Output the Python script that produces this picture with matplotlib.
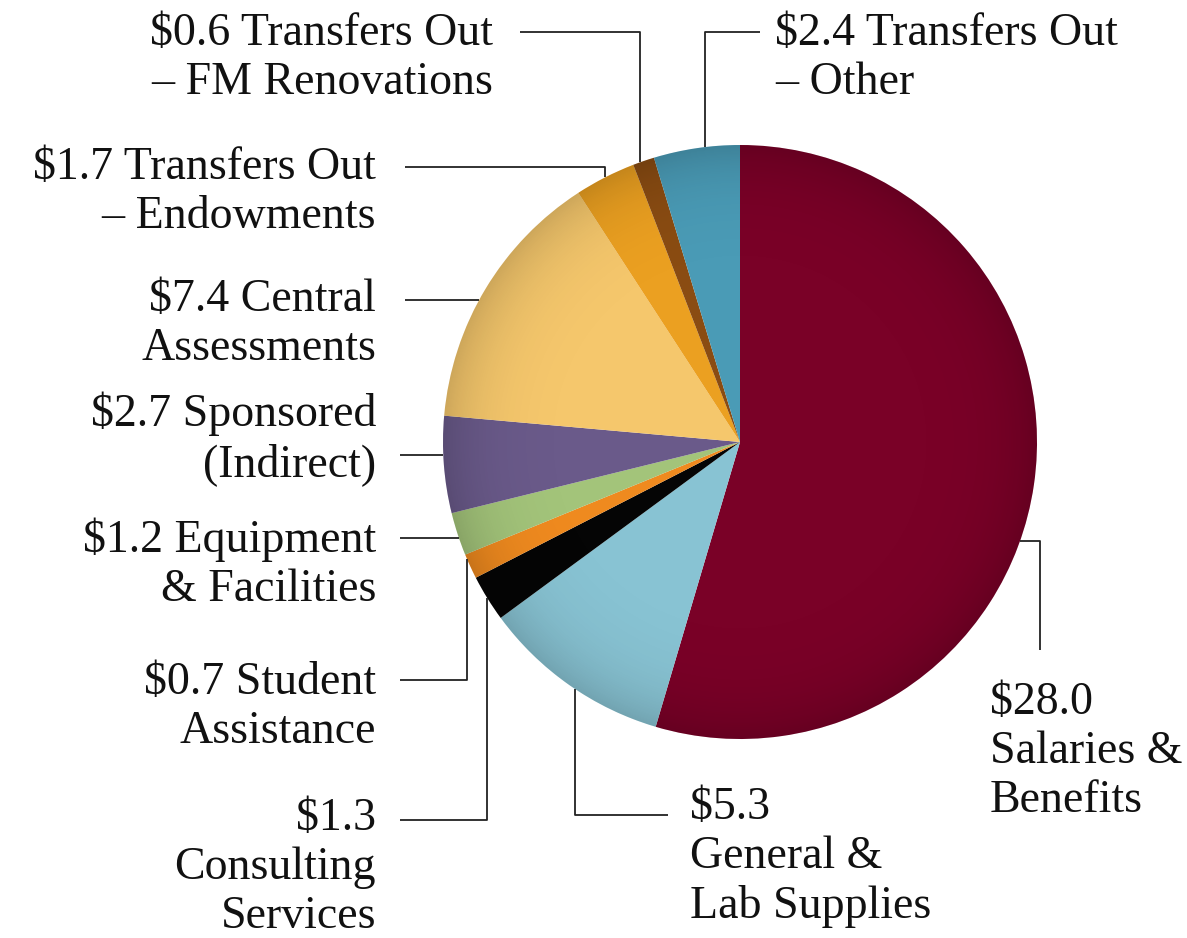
import matplotlib
matplotlib.use("Agg")
import matplotlib.pyplot as plt
from matplotlib.patches import Circle
import numpy as np

# ---- data ----
categories = [
    "$28.0\nSalaries &\nBenefits",
    "$5.3\nGeneral &\nLab Supplies",
    "$1.3\nConsulting\nServices",
    "$0.7 Student\nAssistance",
    "$1.2 Equipment\n& Facilities",
    "$2.7 Sponsored\n(Indirect)",
    "$7.4 Central\nAssessments",
    "$1.7 Transfers Out\n– Endowments",
    "$0.6 Transfers Out\n– FM Renovations",
    "$2.4 Transfers Out\n– Other",
]
values = [28.0, 5.3, 1.3, 0.7, 1.2, 2.7, 7.4, 1.7, 0.6, 2.4]
colors = ["#7a0127", "#88c3d3", "#050505", "#ef8a1f", "#a3c47a",
          "#6a5a8a", "#f5c76c", "#eba021", "#8a4c12", "#4a9bb6"]

W, H = 1187, 938
fig = plt.figure(figsize=(W / 100, H / 100), dpi=100)
ax = fig.add_axes([0, 0, 1, 1])

CX, CY, R = 740, 442, 297
ax.pie(values, colors=colors, center=(CX, CY), radius=R, startangle=-90,
       counterclock=True, wedgeprops=dict(linewidth=0))
ax.set_xlim(0, W)
ax.set_ylim(H, 0)
ax.set_aspect("equal")
ax.axis("off")

# subtle rim shading to mimic the soft 3-D look
n = 400
gx, gy = np.meshgrid(np.linspace(-1, 1, n), np.linspace(-1, 1, n))
rr = np.sqrt(gx ** 2 + gy ** 2)
shade = np.zeros((n, n, 4))
shade[..., 3] = np.clip(0.16 * rr ** 8, 0, 0.16)
im = ax.imshow(shade, extent=(CX - R, CX + R, CY + R, CY - R), zorder=3,
               interpolation="bilinear")
clip = Circle((CX, CY), R, transform=ax.transData)
im.set_clip_path(clip)
ax.set_xlim(0, W)
ax.set_ylim(H, 0)

def cx_at(y, side):
    return CX + side * np.sqrt(R ** 2 - (y - CY) ** 2)

def cy_at(x, side):
    return CY + side * np.sqrt(R ** 2 - (x - CX) ** 2)

leaders = [
    ("hv", 541, 1040, 650, 1),
    ("vh", 575, 815, 668, 1),
    ("vh", 487, 820, 400, 1),
    ("vh", 467, 680, 400, 1),
    ("h", 538, 400, -1),
    ("h", 455, 400, -1),
    ("h", 300, 405, -1),
    ("vh", 605, 167, 405, -1),
    ("vh", 640, 32, 520, -1),
    ("vh", 705, 32, 760, -1),
]
lk = dict(color="#222222", lw=1.3, solid_capstyle="butt", zorder=4)
for spec in leaders:
    if spec[0] == "h":
        _, y, xe, side = spec
        ax.plot([cx_at(y, side), xe], [y, y], **lk)
    elif spec[0] == "vh":
        _, x, yt, xe, side = spec
        ax.plot([x, x, xe], [cy_at(x, side), yt, yt], **lk)
    else:
        _, y, xt, ye, side = spec
        ax.plot([cx_at(y, side), xt, xt], [y, y, ye], **lk)

text_pos = [
    (990, 752, "left"),
    (690, 857, "left"),
    (376, 868, "right"),
    (376, 707, "right"),
    (376, 564, "right"),
    (376, 439, "right"),
    (376, 324, "right"),
    (376, 192, "right"),
    (493, 58, "right"),
    (775, 58, "left"),
]
for lab, (x, y, ha) in zip(categories, text_pos):
    ax.text(x, y, lab, ha=ha, va="center", multialignment=ha,
            fontsize=33, family="Liberation Serif", color="#111111",
            linespacing=1.2, parse_math=False)

fig.savefig("out.png", dpi=100)
